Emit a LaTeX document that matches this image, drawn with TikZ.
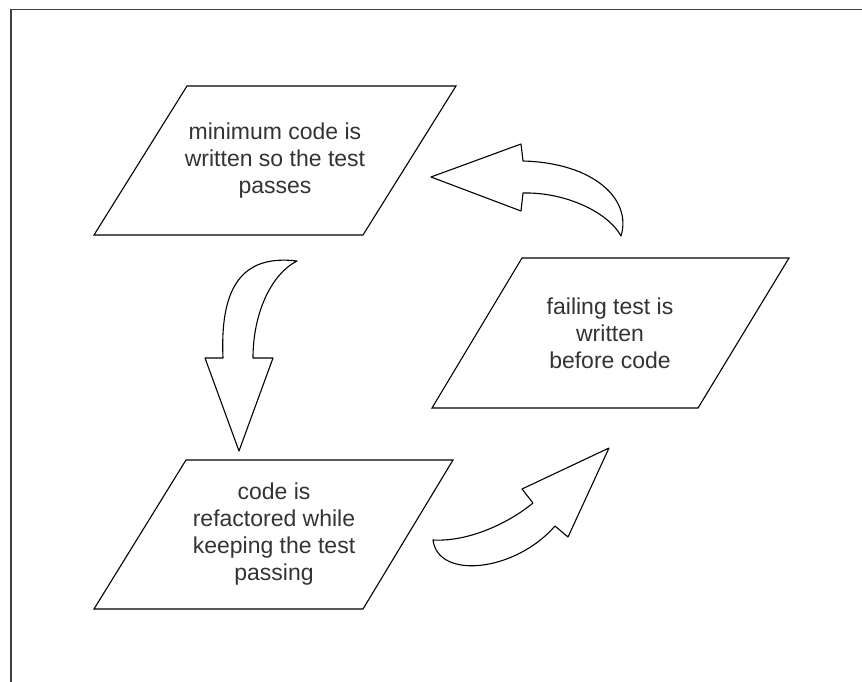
\documentclass[tikz,border=0pt]{standalone}
\usepackage{fontspec}
\setmainfont{Liberation Sans}
\begin{document}
\begin{tikzpicture}[x=1pt,y=-1pt,
  stagebox/.style={draw=black, line width=1.1pt, line join=miter},
  stagetext/.style={inner sep=0pt, align=center, text=black!80,
    font=\fontsize{23}{27}\selectfont},
  bentarrow/.style={draw=black, fill=white, line width=1.1pt, line join=round},
  frame/.style={draw=black!75, line width=1.2pt}]
\useasboundingbox (0,0) rectangle (862,682);

% page frame (top and left edges only)
\draw[frame] (11,682) -- (11,9.5) -- (862,9.5);

% the three stages of the cycle: parallelogram outlines
\draw[stagebox] (187,86) -- (456,86) -- (363,235) -- (94,235) -- cycle;
\draw[stagebox] (522,258) -- (789,258) -- (698,408) -- (432,408) -- cycle;
\draw[stagebox] (186,460) -- (453,460) -- (363,609) -- (94,609) -- cycle;

% stage labels
\node[stagetext] (green) at (275,160.5) {minimum code is\\written so the test\\passes};
\node[stagetext] (red) at (610,333) {failing test is\\written\\before code};
\node[stagetext] (refactor) at (274,534.5) {code is\\refactored while\\keeping the test\\passing};

% red -> green: curved arrow pointing left
\draw[bentarrow] (431,177) -- (521,144) -- (523,161)
  .. controls (595,163) and (632,200) .. (621,236)
  .. controls (608,212) and (565,192) .. (523,193)
  -- (521,211) -- cycle;

% green -> refactor: curved arrow pointing down
\draw[bentarrow] (297,261) .. controls (240,254) and (220,290) .. (223,358)
  -- (205,358) -- (239,451) -- (273,358) -- (253,358)
  .. controls (253,315) and (270,275) .. (297,261) -- cycle;

% refactor -> red: curved arrow pointing up-right
\draw[bentarrow] (433,540) .. controls (438,580) and (515,572) .. (555,526)
  -- (568,537) -- (609,448) -- (522,489) -- (533,503)
  .. controls (510,522) and (470,542) .. (433,540) -- cycle;
\end{tikzpicture}
\end{document}
